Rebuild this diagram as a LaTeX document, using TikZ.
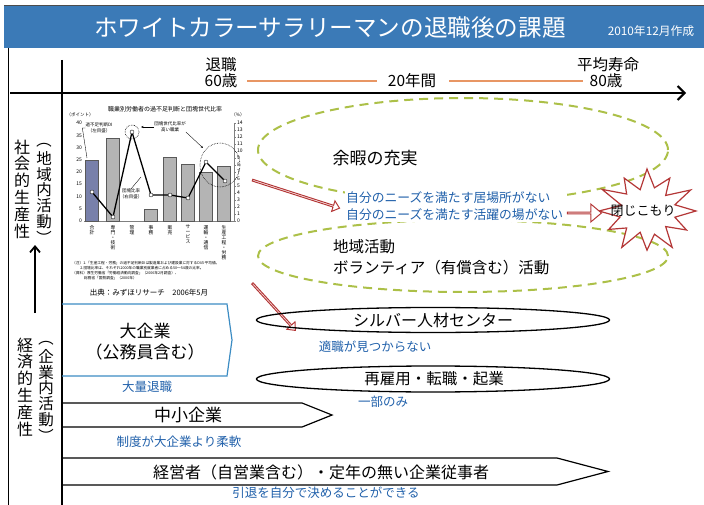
\documentclass[tikz,border=0pt]{standalone}
\usepackage{fontspec}
\setmainfont{Noto Sans CJK JP}
\usetikzlibrary{shapes.geometric,shapes.arrows,arrows.meta,calc}
\definecolor{titleblue}{RGB}{59,122,183}
\definecolor{txtblue}{RGB}{32,96,170}
\definecolor{dashgreen}{RGB}{172,192,72}
\definecolor{burstred}{RGB}{180,55,55}
\definecolor{lineorange}{RGB}{232,150,100}
\definecolor{boxblue}{RGB}{60,140,195}
\definecolor{barblue}{RGB}{120,128,170}
\definecolor{bargray}{RGB}{180,180,180}
\newcommand{\fsz}[1]{\fontsize{#1}{#1}\selectfont}
\begin{document}
\begin{tikzpicture}[x=1pt,y=-1pt,
  lbl/.style={inner sep=0pt},
  bluetxt/.style={text=txtblue, inner sep=0pt, font=\fsz{12.5}},
  vert/.style={align=center, inner sep=0pt, font=\fontsize{16}{16.8}\selectfont},
  vert2/.style={align=center, inner sep=0pt, font=\fontsize{15.5}{15.6}\selectfont},
  vparen/.style={inner sep=0pt, rotate=-90, font=\fsz{15.5}},
  dashell/.style={ellipse, draw=dashgreen, line width=2pt, dash pattern=on 9pt off 6pt, inner sep=0pt},
  blackell/.style={ellipse, draw, line width=1.3pt, inner sep=0pt},
  hollowarrow/.style={single arrow, draw=burstred, fill=white, line width=1pt, inner sep=0pt,
     single arrow head extend=2.5pt, minimum width=11pt, single arrow tip angle=80, single arrow head indent=0pt},
  bigtxt/.style={inner sep=0pt, font=\fsz{17}},
  chartsm/.style={inner sep=0pt, font=\fsz{5}},
  thinl/.style={line width=0.35pt},
  burstline/.style={draw=burstred, fill=white, line width=1.2pt, line join=miter}
]
\useasboundingbox (0,0) rectangle (704,505);

% title bar
\fill[titleblue] (4,6) rectangle (704,48);
\draw[line width=1pt, black!70] (4,6) -- (704,6);
\node[lbl, text=white, font=\fsz{23.6}] (title) at (330,28) {ホワイトカラーサラリーマンの退職後の課題};
\node[lbl, text=white, font=\fsz{11.8}] (date) at (651,31) {2010年12月作成};
\draw[line width=1pt] (8,48) -- (8,505);

% time axis
\coordinate (axs) at (10,93);
\coordinate (axe) at (686,93);
\draw[line width=2pt, -{Straight Barb[length=7pt,width=14pt]}] (axs) -- (axe);
\coordinate (vtop) at (62,60);
\coordinate (vbot) at (62,505);
\draw[line width=1.8pt] (vtop) -- (vbot);

\node[lbl, font=\fsz{15.5}] (ret) at (221,65) {退職};
\node[lbl, font=\fsz{15.5}] (age60) at (221,81) {60歳};
\node[lbl, font=\fsz{15.5}] (yrs) at (412,81) {20年間};
\node[lbl, font=\fsz{15.5}] (life) at (608,65) {平均寿命};
\node[lbl, font=\fsz{15.5}] (age80) at (606,81) {80歳};
\coordinate (o1a) at (247,81); \coordinate (o1b) at (377,81);
\coordinate (o2a) at (449,81); \coordinate (o2b) at (583,81);
\draw[lineorange, line width=2.2pt] (o1a) -- (o1b);
\draw[lineorange, line width=2.2pt] (o2a) -- (o2b);

% left vertical labels
\node[vert] (soc) at (22,189) {社\\会\\的\\生\\産\\性};
\node[vert2] (soc2) at (44,190) {地\\域\\内\\活\\動};
\node[vparen] (soc2o) at (44,140) {（};
\node[vparen] (soc2c) at (44,238) {）};
\node[vert] (eco) at (25,387) {経\\済\\的\\生\\産\\性};
\node[vert2] (eco2) at (46,388) {企\\業\\内\\活\\動};
\node[vparen] (eco2o) at (46,338) {（};
\node[vparen] (eco2c) at (46,436) {）};
\coordinate (upS) at (35,313);
\coordinate (upE) at (35,245);
\draw[line width=1.8pt, -{Straight Barb[length=6pt,width=10pt]}] (upS) -- (upE);

% ---------- chart ----------
\node[lbl, font=\fsz{6}] (ctitle) at (165,109) {職業別労働者の過不足判断と団塊世代比率};
\node[lbl, font=\fsz{4.5}] (cunitl) at (80,115) {（ポイント）};
\node[lbl, font=\fsz{4.5}] (cunitr) at (238,115) {（\%）};
\foreach \vv in {0,5,...,40} \node[chartsm, anchor=east] (lt\vv) at (82,{221-2.45*\vv}) {\vv};
\foreach \vv in {0,...,14} \node[chartsm, anchor=west] (rt\vv) at (237,{221-7*\vv}) {\vv};
\draw[thinl, gray] (84,221) -- (234,221);
\draw[thinl, gray] (234,123) -- (234,221);
\foreach \vv in {0,...,14} \draw[thinl, gray] (234,{221-7*\vv}) -- (236,{221-7*\vv});
\foreach \xx/\hh/\cc in {92/25/barblue,113/34/bargray,151/5/bargray,170/26/bargray,188/23/bargray,206/20/bargray,224/22.5/bargray}
  \draw[draw=gray!70!black, thinl, fill=\cc] ({\xx-6.5},221) rectangle ({\xx+6.5},{221-2.45*\hh});
\draw[line width=1.3pt] (92,192) -- (113,217) -- (132,132) -- (151,195) -- (170,195) -- (188,198) -- (206,162) -- (225,181);
\foreach \xx/\yy in {92/192,113/217,132/132,151/195,170/195,188/198,206/162,225/181}
  \draw[fill=white, thinl] (\xx,\yy) circle (2pt);
\draw[densely dotted, line width=0.6pt] (132,132) circle (7pt);
\draw[densely dotted, line width=0.6pt] (220,165) circle [x radius=20pt, y radius=22pt];
\node[lbl, font=\fontsize{4.5}{5.5}\selectfont, align=center] (lbl1) at (99,128) {過不足判断DI\\（左目盛）};
\draw[thinl] (lbl1.west) -- ++(-3,0) -- (87,158);
\node[lbl, font=\fontsize{4.5}{5.5}\selectfont, align=center] (lbl2) at (170,127) {団塊世代比率が\\高い職業};
\draw[thinl, -{Stealth[length=2.5pt,width=2pt]}] (lbl2.west) -- (141,127);
\draw[thinl, -{Stealth[length=2.5pt,width=2pt]}] (lbl2.south east) -- (203,148);
\node[lbl, font=\fontsize{4.5}{5.5}\selectfont, align=center] (lbl3) at (131,194) {団塊比率\\（右目盛）};
\draw[thinl] (lbl3.north) -- (141,177);
\foreach \xx/\tt [count=\ii] in {92/{合\\計},113/{専\\門\\・\\技\\術},132/{管\\理},151/{事\\務},170/{販\\売},188/{サ\\ー\\ビ\\ス},206/{運\\輸\\・\\通\\信},224/{生\\産\\工\\程\\・\\労\\務}}
  \node[lbl, font=\fontsize{4.8}{5}\selectfont, align=center, anchor=north] (cat\ii) at (\xx,225) {\tt};
\node[lbl, font=\fontsize{3.7}{5.2}\selectfont, align=left, anchor=north west] (cnote) at (72,261)
 {（注）1.「生産工程・労務」の過不足判断DIは製造業および建設業に対するDIの平均値。\\
  　　 2.団塊比率は、それぞれ2000年の職業別就業者に占める50～54歳の比率。\\
  （資料）厚生労働省「労働経済動向調査」（2006年2月調査）、\\
  　　　 総務省「国勢調査」（2000年）};
\node[lbl, font=\fsz{7.5}] (src) at (149,293) {出典：みずほリサーチ　2006年5月};

% ---------- dashed ellipses ----------
\node[dashell, minimum width=410pt, minimum height=104pt] (leisure) at (463,150) {};
\node[dashell, minimum width=410pt, minimum height=72pt] (local) at (463,256) {};
\node[bigtxt] (leisuretxt) at (375,158) {余暇の充実};
\node[lbl, font=\fontsize{15.5}{21}\selectfont, align=left, anchor=west] (localtxt) at (333,257) {地域活動\\ボランティア（有償含む）活動};
\node[lbl, text=txtblue, fill=white, inner sep=1pt, align=left, anchor=west, font=\fontsize{12.8}{17}\selectfont] (need) at (345,206.5)
 {自分のニーズを満たす居場所がない\\自分のニーズを満たす活躍の場がない};

% starburst
\coordinate (bc) at (647,211);
\draw[burstline] ([shift={(bc)}]0:{48*1.02} and {40*1.02})
  \foreach \aa/\ff in {15/0.6,30/0.95,45/0.55,60/1.05,75/0.6,90/0.98,105/0.55,120/1.05,135/0.6,150/0.92,165/0.58,180/1.0,195/0.55,210/1.08,225/0.6,240/0.95,255/0.55,270/1.05,285/0.6,300/0.95,315/0.55,330/1.05,345/0.6}
  { -- ([shift={(bc)}]\aa:{48*\ff} and {40*\ff}) } -- cycle;
\node[lbl, font=\fsz{13}] (hiki) at (643,211) {閉じこもり};

% hollow arrows
\coordinate (h1s) at (252,180);
\coordinate (h1e) at (339,208);
\path let \p1=($(h1e)-(h1s)$), \n1={atan2(\y1,\x1)}, \n2={veclen(\x1,\y1)} in
  node[hollowarrow, minimum height=\n2, rotate=\n1] (ha1) at ($(h1s)!0.5!(h1e)$) {};
\coordinate (h2s) at (252,283);
\coordinate (h2e) at (295,330);
\path let \p1=($(h2e)-(h2s)$), \n1={atan2(\y1,\x1)}, \n2={veclen(\x1,\y1)} in
  node[hollowarrow, minimum height=\n2, rotate=\n1] (ha2) at ($(h2s)!0.5!(h2e)$) {};
\coordinate (h3s) at (567,213);
\coordinate (h3e) at (601,213);
\path let \p1=($(h3e)-(h3s)$), \n1={atan2(\y1,\x1)}, \n2={veclen(\x1,\y1)} in
  node[hollowarrow, minimum width=18pt, single arrow head extend=5pt, minimum height=\n2, rotate=\n1] (ha3) at ($(h3s)!0.5!(h3e)$) {};

% ---------- lower part ----------
\node[blackell, minimum width=353pt, minimum height=25pt] (silver) at (433,320) {};
\node[lbl, font=\fsz{16}] (silvertxt) at (433,320) {シルバー人材センター};
\node[bluetxt] (nojob) at (375,347) {適職が見つからない};
\node[blackell, minimum width=353pt, minimum height=26pt] (rehire) at (433,379) {};
\node[lbl, font=\fsz{15.5}] (rehiretxt) at (434,379) {再雇用・転職・起業};
\node[bluetxt] (some) at (383,402) {一部のみ};

\draw[boxblue, line width=1.2pt] (62,304) -- (227,304) -- (232,340) -- (227,376) -- (62,376);
\node[lbl, font=\fontsize{17}{21}\selectfont, align=center] (large) at (145,342) {大企業\\（公務員含む）};
\node[bluetxt] (mass) at (147,387) {大量退職};
\draw[line width=1.2pt] (62,403) -- (302,403) -- (332,415) -- (302,427) -- (62,427);
\node[lbl, font=\fsz{17}] (sme) at (188,415) {中小企業};
\node[bluetxt] (flex) at (179,442) {制度が大企業より柔軟};
\draw[line width=1.2pt] (62,458) -- (557,458) -- (608,471.5) -- (557,485) -- (62,485);
\node[lbl, font=\fsz{16}] (owner) at (321,472) {経営者（自営業含む）・定年の無い企業従事者};
\node[bluetxt] (self) at (326,493) {引退を自分で決めることができる};
\end{tikzpicture}
\end{document}
